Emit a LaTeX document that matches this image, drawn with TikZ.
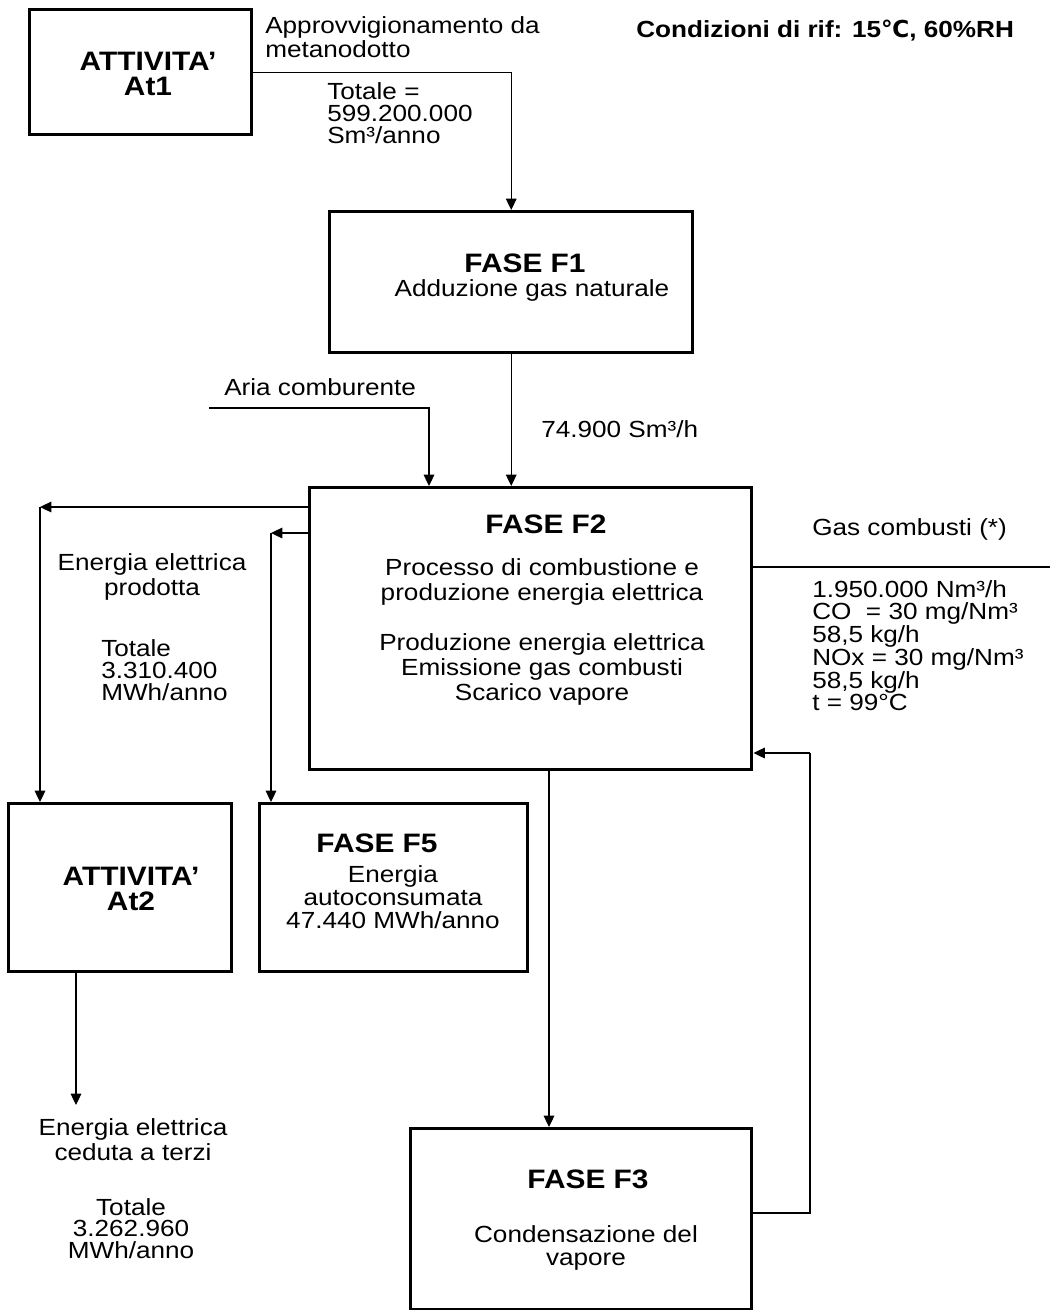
\documentclass[tikz,border=0pt]{standalone}
\usepackage{fontspec}
\setmainfont[FakeStretch=1.12]{Liberation Sans}
\newfontfamily\djv{DejaVu Sans}
\usetikzlibrary{arrows.meta}
\newcommand\nf{\fontsize{17.5}{16.5}\selectfont}
\newcommand\bfnt{\fontsize{20}{18.75}\selectfont\bfseries}
\begin{document}
\begin{tikzpicture}[x=0.75pt,y=-0.75pt,
  box/.style 2 args={draw,line width=2.6pt,inner sep=0pt,anchor=north west,
     minimum width=#1*0.75pt,minimum height=#2*0.75pt},
  arr/.style={line width=0.8pt,-{Triangle[length=8.5pt,width=8pt]}},
  ln/.style={line width=0.8pt},
  txt/.style={inner sep=0pt,anchor=base,font=\nf},
  ttl/.style={inner sep=0pt,anchor=base,font=\bfnt,align=center}]
\useasboundingbox (0,0) rectangle (1050,1310);
% boxes
\node[box={222}{125}] (At1) at (28,8) {};
\node[box={363}{141}] (F1) at (328,210) {};
\node[box={442}{282}] (F2) at (308,486) {};
\node[box={223}{168}] (At2) at (7,802) {};
\node[box={268}{168}] (F5) at (258,802) {};
\node[box={341}{181}] (F3) at (409,1127) {};
% box titles (base = baseline of the last line)
\node[ttl] (t1) at (148,95) {ATTIVITA'\\At1};
\node[ttl] (tF1) at (525,272) {FASE F1};
\node[txt] (dF1) at (532,296) {Adduzione gas naturale};
\node[ttl] (tF2) at (546,533) {FASE F2};
\node[txt,align=center,font=\fontsize{17.5}{18.75}\selectfont] (dF2) at (542,700)
  {Processo di combustione e\\produzione energia elettrica\\[18.75pt]Produzione energia elettrica\\Emissione gas combusti\\Scarico vapore};
\node[ttl] (t2) at (131,910) {ATTIVITA'\\At2};
\node[ttl] (tF5) at (377,852) {FASE F5};
\node[txt,align=center,font=\fontsize{17.5}{16.9}\selectfont] (dF5) at (393,928) {Energia\\autoconsumata\\47.440 MWh/anno};
\node[ttl] (tF3) at (588,1188) {FASE F3};
\node[txt,align=center,font=\fontsize{17.5}{17.25}\selectfont] (dF3) at (586,1265) {Condensazione del\\vapore};
% other labels
\node[txt,anchor=base west,align=left,font=\fontsize{17.5}{18}\selectfont] (appr) at (265,57) {Approvvigionamento da\\metanodotto};
\node[txt,anchor=base west,font=\fontsize{17.5}{16.5}\selectfont\bfseries] (cond) at (636,37) {Condizioni di rif: 15{\djv\bfseries ℃}, 60\%RH};
\node[txt,anchor=base west,align=left] (tot1) at (327,143) {Totale =\\599.200.000\\Sm³/anno};
\node[txt,anchor=base west] (aria) at (224,395) {Aria comburente};
\node[txt,anchor=base west] (flow) at (541,437) {74.900 Sm³/h};
\node[txt,anchor=base west] (gas) at (812,535) {Gas combusti (*)};
\node[txt,anchor=base west,align=left,font=\fontsize{17.5}{16.2}\selectfont] (gasd) at (812,710)
  {1.950.000 Nm³/h\\CO\ \ = 30 mg/Nm³\\58,5 kg/h\\NOx = 30 mg/Nm³\\58,5 kg/h\\t = 99°C};
\node[txt,align=center,font=\fontsize{17.5}{18.75}\selectfont] (eep) at (152,595) {Energia elettrica\\prodotta};
\node[txt,anchor=base west,align=left] (tot2) at (101,700) {Totale\\3.310.400\\MWh/anno};
\node[txt,align=center,font=\fontsize{17.5}{18.75}\selectfont] (eet) at (133,1160) {Energia elettrica\\ceduta a terzi};
\node[txt,align=center,font=\fontsize{17.5}{16}\selectfont] (tot3) at (131,1258) {Totale\\3.262.960\\MWh/anno};
% routing coordinates
\coordinate (ariaS) at (209,408);
\coordinate (ariaK) at (429,408);
\coordinate (gasE) at (1050,567);
\coordinate (retB) at (810,1213);
\coordinate (retT) at (810,753);
\coordinate (f3x) at (549,0);
\coordinate (eL) at (40,507);
\coordinate (aL) at (271,533);
\coordinate (outE) at (76,1105);
% connectors
\draw[arr] (At1.east) -| (F1.north);
\draw[arr] (F1.south) -- (F1.south |- F2.north);
\draw[arr] (ariaS) -- (ariaK) -- (ariaK |- F2.north);
\draw[ln] (gasE -| F2.east) -- (gasE);
\draw[ln] (retB -| F3.east) -- (retB) -- (retT);
\draw[arr] (retT) -- (retT -| F2.east);
\draw[arr] (F2.south -| f3x) -- (F3.north -| f3x);
\draw[arr] (eL -| F2.west) -- (eL);
\draw[arr] (eL) -- (eL |- At2.north);
\draw[arr] (aL -| F2.west) -- (aL);
\draw[arr] (aL) -- (aL |- F5.north);
\draw[arr] (At2.south -| outE) -- (outE);
\end{tikzpicture}
\end{document}
